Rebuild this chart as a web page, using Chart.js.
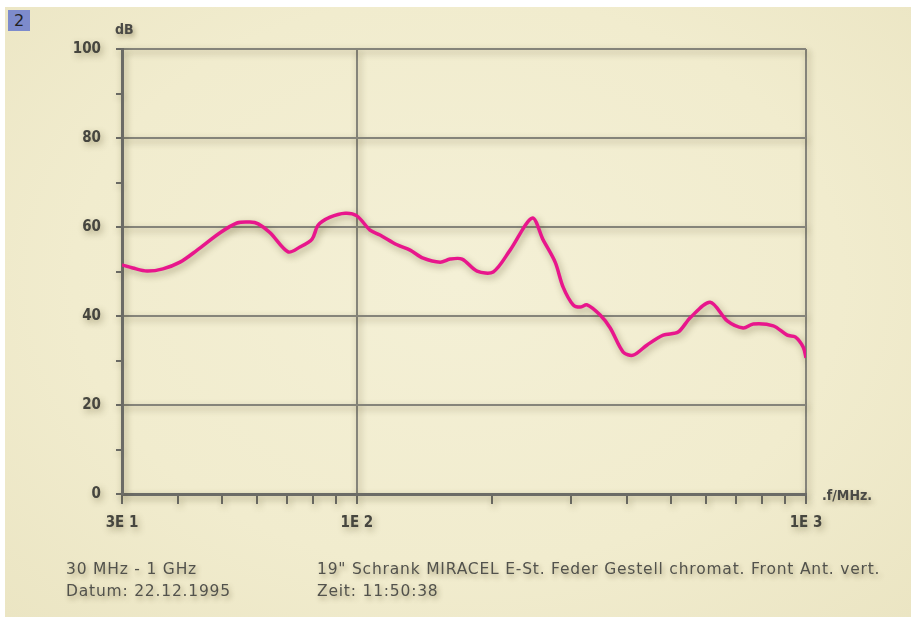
<!DOCTYPE html>
<html>
<head>
<meta charset="utf-8">
<script src="https://cdn.jsdelivr.net/npm/chart.js@4.4.0/dist/chart.umd.min.js"></script>
<style>
  html, body { margin: 0; padding: 0; background: #fff; }
  #panel {
    position: absolute; left: 5px; top: 7px; width: 906px; height: 610px;
    background: radial-gradient(ellipse at 50% 45%, #f4f0d6 0%, #f1ecce 60%, #ebe5c3 100%);
    overflow: hidden;
  }
  #wrap { position: absolute; left: -5px; top: -7px; width: 911px; height: 620px; }
  .lbl {
    position: absolute; font-family: "DejaVu Sans Condensed", "DejaVu Sans", sans-serif;
    color: #4a4a46; text-shadow: 2px 3px 5px rgba(90, 80, 40, 0.45);
  }
  .axisname { font-weight: bold; font-size: 14px; }
  .foot {
    font-family: "DejaVu Sans", sans-serif; font-size: 15.5px; letter-spacing: 0.8px;
    line-height: 22px; color: #52524c; white-space: nowrap;
  }
  #num {
    position: absolute; left: 3px; top: 3px; width: 22px; height: 21px;
    background: #7d8bcc; color: #222; font: 16px "DejaVu Sans", sans-serif;
    text-align: center; line-height: 21px;
  }
</style>
</head>
<body>
<div id="panel">
  <div id="num">2</div>
  <div id="wrap"><canvas id="emvChart" width="911" height="620"></canvas></div>
  <div class="lbl axisname" style="left:110px; top:14px;">dB</div>
  <div class="lbl axisname" style="left:817px; top:480px;">.f/MHz.</div>
  <div class="lbl foot" style="left:61px; top:551px;">30 MHz - 1 GHz<br>Datum: 22.12.1995</div>
  <div class="lbl foot" style="left:312px; top:551px;">19" Schrank MIRACEL E-St. Feder Gestell chromat. Front Ant. vert.<br>Zeit: 11:50:38</div>
</div>
<script>
// frequency in MHz, level in dB
const freqs = [
  30, 31.7, 34.1, 37.0, 40.4, 44.1, 49.6, 54.1, 57.8, 60.3, 64.1, 70.3,
  74.7, 79.5, 82.0, 87.2, 94.2, 100, 107, 112.6, 122.9, 131.4, 140.5, 153.3,
  161.3, 171.5, 185.2, 201.2, 219.4, 245.7, 259.9, 276.4, 287.9, 303.1, 314.2,
  325.6, 348.1, 366.6, 391.7, 412.3, 443, 481, 519.2, 552.3, 611.9, 667.9,
  724.8, 762.9, 845.5, 908.3, 946.2, 985.9, 1000
];
const levels = [
  51.5, 50.8, 50.1, 50.6, 52.1, 54.8, 58.7, 60.9, 61.1, 60.7, 58.7, 54.4,
  55.5, 57.3, 60.4, 62.2, 63.1, 62.5, 59.3, 58.2, 56.0, 54.8, 53.0, 52.1,
  52.8, 52.8, 50.1, 49.9, 54.8, 62.0, 57.1, 52.1, 46.5, 42.5, 42.0,
  42.5, 40.2, 37.3, 31.9, 31.2, 33.5, 35.7, 36.4, 39.6, 43.1, 38.9,
  37.3, 38.2, 37.8, 35.7, 35.3, 33.0, 30.6
];
const xTicks = [30, 40, 50, 60, 70, 80, 90, 100, 200, 300, 400, 500, 600, 700, 800, 900, 1000];
const xTickLabels = { 30: "3E 1", 100: "1E 2", 1000: "1E 3" };
const yTicks = [0, 10, 20, 30, 40, 50, 60, 70, 80, 90, 100];

const gridGray = "#85847a";
const axisGray = "#6b6b66";
const tickFont = { family: "'DejaVu Sans Condensed', 'DejaVu Sans', sans-serif", size: 15, weight: "bold" };

// soft drop shadow like the printed original
const shadowPlugin = {
  id: "softShadow",
  beforeDraw(chart) {
    const ctx = chart.ctx;
    ctx.save();
    ctx.shadowColor = "rgba(80, 70, 30, 0.45)";
    ctx.shadowBlur = 7;
    ctx.shadowOffsetX = 2;
    ctx.shadowOffsetY = 3;
  },
  afterDraw(chart) {
    chart.ctx.restore();
  },
};

window.addEventListener("load", () => {
  const ctx = document.getElementById("emvChart").getContext("2d");
  new Chart(ctx, {
    type: "line",
    data: {
      datasets: [{
        data: freqs.map((f, i) => ({ x: f, y: levels[i] })),
        borderColor: "#e8168c",
        borderWidth: 3.5,
        pointRadius: 0,
        tension: 0.3,
      }],
    },
    plugins: [shadowPlugin],
    options: {
      responsive: false,
      animation: false,
      layout: { padding: { left: 0, top: 49, right: 105, bottom: 0 } },
      plugins: { legend: { display: false }, tooltip: { enabled: false } },
      scales: {
        x: {
          type: "logarithmic",
          min: 30,
          max: 1000,
          afterBuildTicks: (scale) => { scale.ticks = xTicks.map((v) => ({ value: v })); },
          afterFit: (scale) => { scale.height = 126; },
          border: { color: axisGray, width: 3 },
          grid: {
            color: (c) => (c.tick && (c.tick.value === 100 || c.tick.value === 1000)) ? gridGray : "transparent",
            tickColor: axisGray,
            lineWidth: 2,
            tickLength: 10,
          },
          ticks: {
            autoSkip: false,
            maxRotation: 0,
            padding: 10,
            color: "#46463f",
            font: tickFont,
            callback: (v) => xTickLabels[v] || "",
          },
        },
        y: {
          min: 0,
          max: 100,
          afterBuildTicks: (scale) => { scale.ticks = yTicks.map((v) => ({ value: v })); },
          afterFit: (scale) => { scale.width = 122; },
          border: { color: axisGray, width: 3 },
          grid: {
            color: (c) => (c.tick && c.tick.value > 0 && c.tick.value % 20 === 0) ? gridGray : "transparent",
            tickColor: axisGray,
            lineWidth: 2,
            tickLength: 6,
          },
          ticks: {
            padding: 15,
            color: "#46463f",
            font: tickFont,
            callback: (v) => (v % 20 === 0 ? String(v) : ""),
          },
        },
      },
    },
  });
});
</script>
</body>
</html>
